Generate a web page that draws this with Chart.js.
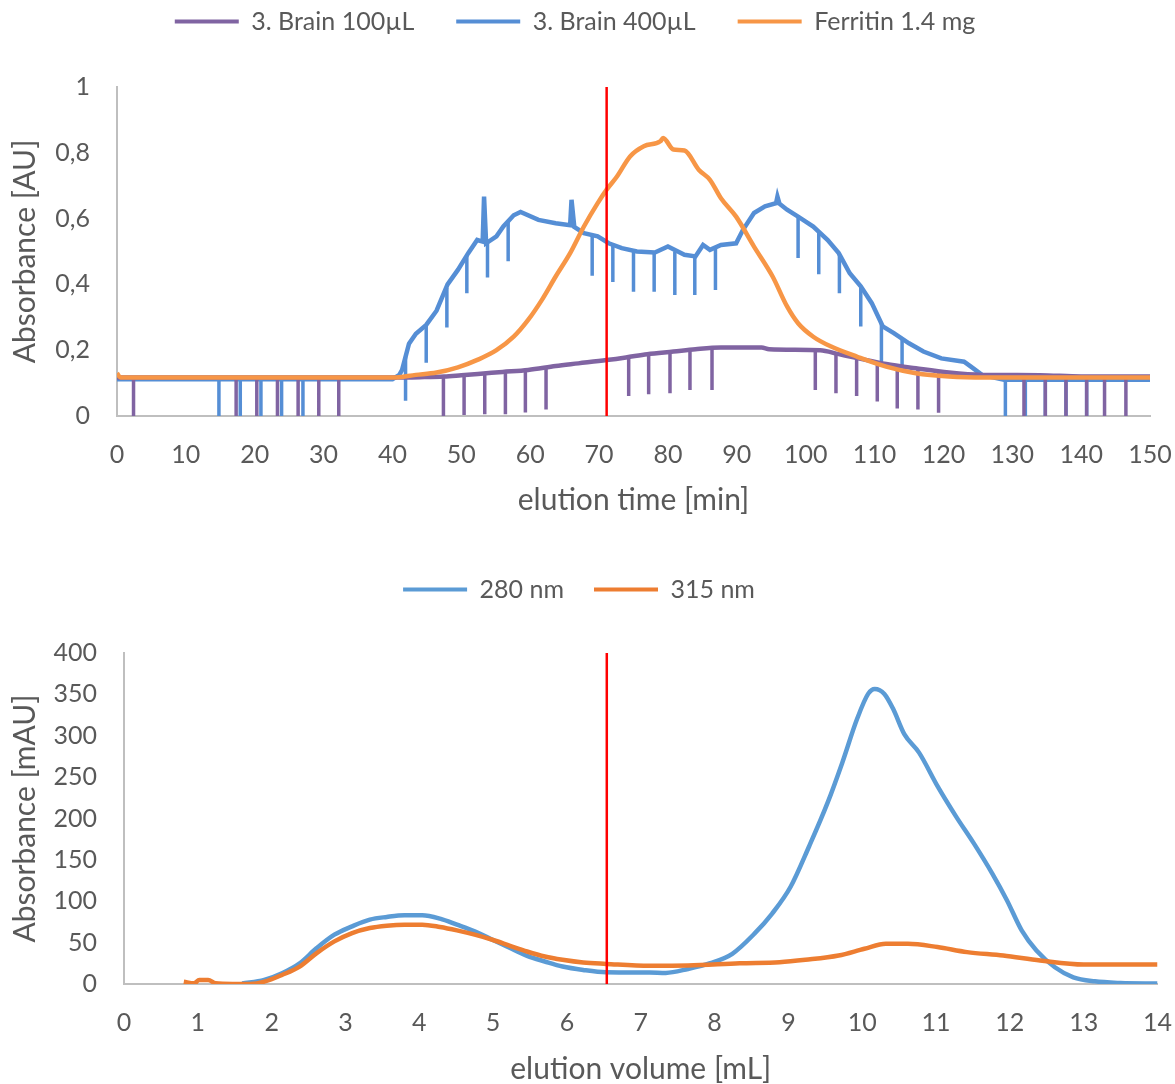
<!DOCTYPE html>
<html>
<head>
<meta charset="utf-8">
<script src="https://cdn.jsdelivr.net/npm/chart.js@4.4.1/dist/chart.umd.min.js"></script>
<style>
  html, body { margin: 0; padding: 0; background: #fff; }
  #top { position: absolute; left: 0; top: 0; width: 1175px; height: 540px; }
  #bottom { position: absolute; left: 0; top: 555px; width: 1175px; height: 529px; }
</style>
</head>
<body>
<div id="top"><canvas id="c1"></canvas></div>
<div id="bottom"><canvas id="c2"></canvas></div>
<script>
// top chart: elution time [min] vs absorbance [AU]
const brain100Time = [0, 10, 20, 30, 40, 44, 47.5, 50, 53.6, 56, 59.7, 63.7, 67, 71.1, 73.9, 77, 80.8, 84, 87.7, 93.6, 94.7, 102.1, 104.8, 107.5, 111.7, 116, 120.8, 125.6, 134, 140, 150]
const brain100Abs = [0.117, 0.117, 0.117, 0.117, 0.117, 0.118, 0.12, 0.124, 0.13, 0.134, 0.14, 0.152, 0.16, 0.17, 0.178, 0.188, 0.196, 0.203, 0.208, 0.208, 0.203, 0.2, 0.188, 0.176, 0.158, 0.145, 0.132, 0.125, 0.124, 0.12, 0.12]
const brain100SpikeTime = [2.4, 17.3, 20.3, 23.3, 26.3, 29.3, 32.2, 47.4, 50.4, 53.4, 56.4, 59.3, 62.3, 74.3, 77.2, 80.3, 83.2, 86.4, 101.4, 104.4, 107.4, 110.4, 113.3, 116.3, 119.3, 131.7, 134.8, 137.8, 140.8, 143.4, 146.5]
const brain100SpikeTop = [0.117, 0.117, 0.117, 0.117, 0.117, 0.117, 0.117, 0.12, 0.124, 0.13, 0.134, 0.14, 0.148, 0.18, 0.188, 0.195, 0.2, 0.206, 0.2, 0.19, 0.176, 0.162, 0.152, 0.145, 0.135, 0.122, 0.122, 0.122, 0.122, 0.122, 0.122]
const brain100SpikeLow = [0, 0, 0, 0, 0, 0, 0, 0, 0.003, 0.005, 0.005, 0.011, 0.02, 0.061, 0.066, 0.069, 0.079, 0.079, 0.079, 0.069, 0.061, 0.044, 0.023, 0.02, 0.01, 0, 0, 0, 0, 0, 0]

const brain400Time = [0, 40, 41, 41.4, 42.4, 43.4, 44.9, 46.4, 48, 49.5, 51, 52.3, 53.1, 53.3, 53.6, 55.1, 56.1, 57.6, 58.6, 61.2, 63.7, 65.8, 66, 66.4, 67.8, 69.8, 71.4, 73.3, 75.5, 78.1, 80, 82.4, 84, 85.1, 86.1, 87.7, 89.9, 90.9, 92.5, 94.1, 95.7, 95.9, 96.2, 97.3, 98.9, 101.1, 103.2, 104.8, 106.4, 108, 109.6, 111.2, 112.8, 115, 117.1, 119.7, 123, 124, 125.6, 128.8, 150]
const brain400Abs = [0.112, 0.112, 0.125, 0.14, 0.22, 0.25, 0.277, 0.32, 0.4, 0.444, 0.495, 0.535, 0.53, 0.667, 0.525, 0.546, 0.576, 0.61, 0.62, 0.596, 0.586, 0.58, 0.657, 0.575, 0.556, 0.546, 0.525, 0.51, 0.5, 0.497, 0.515, 0.49, 0.485, 0.52, 0.505, 0.52, 0.525, 0.566, 0.617, 0.637, 0.647, 0.667, 0.645, 0.627, 0.606, 0.576, 0.535, 0.495, 0.434, 0.394, 0.343, 0.272, 0.252, 0.221, 0.196, 0.175, 0.165, 0.15, 0.125, 0.11, 0.11]
const brain400SpikeTime = [14.8, 17.9, 20.9, 23.9, 27.0, 41.9, 44.9, 47.9, 50.8, 53.8, 56.8, 69, 72, 75, 78, 81, 83.9, 86.9, 98.9, 101.9, 104.9, 108, 111, 114, 129, 131.9, 134.8, 137.8, 140.8]
const brain400SpikeTop = [0.112, 0.112, 0.112, 0.112, 0.112, 0.18, 0.277, 0.39, 0.49, 0.53, 0.59, 0.55, 0.52, 0.5, 0.497, 0.5, 0.485, 0.51, 0.606, 0.56, 0.49, 0.394, 0.28, 0.235, 0.11, 0.11, 0.11, 0.11, 0.11]
const brain400SpikeLow = [0, 0, 0, 0, 0, 0.046, 0.162, 0.269, 0.373, 0.421, 0.47, 0.426, 0.407, 0.378, 0.378, 0.368, 0.368, 0.383, 0.48, 0.431, 0.373, 0.272, 0.15, 0.15, 0, 0, 0, 0, 0]

const ferritinTime = [0, 0.5, 10, 20, 30, 40, 43.4, 46.4, 49.5, 52.5, 55.1, 57.6, 59.7, 61.7, 63.7, 65.8, 67.8, 69.8, 71.1, 72.6, 74.5, 76.5, 78.9, 79.3, 80.8, 82.4, 84.5, 86.1, 87.7, 89.9, 92.5, 95.2, 97.3, 98.9, 101.1, 103.7, 107.5, 111.7, 116, 120.8, 126.1, 150]
const ferritinAbs = [0.13, 0.117, 0.117, 0.117, 0.117, 0.117, 0.125, 0.132, 0.148, 0.172, 0.2, 0.241, 0.292, 0.353, 0.424, 0.495, 0.576, 0.647, 0.688, 0.728, 0.789, 0.82, 0.835, 0.845, 0.81, 0.807, 0.748, 0.718, 0.662, 0.606, 0.515, 0.424, 0.333, 0.282, 0.241, 0.211, 0.18, 0.15, 0.13, 0.12, 0.117, 0.117]

const markerTime = 71.1

// bottom chart: elution volume [mL] vs absorbance [mAU]
const vol280 = [1.6, 1.9, 2.14, 2.38, 2.61, 2.85, 3.09, 3.33, 3.56, 3.8, 4.04, 4.28, 4.51, 4.75, 4.99, 5.23, 5.46, 5.7, 5.94, 6.22, 6.53, 7.12, 7.34, 7.64, 7.94, 8.24, 8.54, 8.78, 9.03, 9.28, 9.53, 9.73, 9.93, 10.08, 10.17, 10.3, 10.42, 10.57, 10.77, 11.02, 11.27, 11.51, 11.76, 11.96, 12.16, 12.36, 12.61, 12.86, 13.15, 13.5, 14]
const abs280 = [0.5, 4.9, 13, 25, 43.4, 59.6, 69.7, 77.8, 81, 83, 83, 79, 71.7, 63.6, 53.5, 43.4, 34, 27.2, 21.1, 17, 14.2, 13.8, 13.4, 18.2, 25.1, 36.5, 60.8, 85.1, 117.5, 166.2, 218.8, 267.5, 320.2, 350.6, 356.6, 350.6, 332.3, 302, 279.6, 239.1, 202.6, 170.2, 133.7, 101.3, 64.8, 40.5, 20.3, 8.1, 3.2, 1.2, 0.5]
const vol315 = [0.81, 0.95, 1.02, 1.14, 1.24, 1.47, 1.71, 1.9, 2.14, 2.38, 2.61, 2.85, 3.09, 3.33, 3.56, 3.8, 4.04, 4.28, 4.51, 4.75, 4.99, 5.23, 5.46, 5.7, 5.94, 6.22, 6.53, 7.12, 7.64, 8.34, 8.88, 9.23, 9.68, 10.03, 10.32, 10.62, 11.02, 11.42, 11.91, 12.41, 13.0, 14]
const abs315 = [2.8, 0.8, 4.9, 4.9, 0.8, 0, 0, 2.8, 10.9, 21, 37.3, 51.5, 61.6, 67.7, 70.5, 71.7, 71.7, 68.9, 64.8, 59.6, 53.5, 46.2, 39.3, 33.2, 29.2, 25.9, 24.3, 22, 22.3, 25.1, 26.3, 29.2, 34.4, 42.6, 48.6, 48.6, 44.6, 38.5, 34.4, 28.4, 23.5, 23.5]

const markerVolume = 6.54

const fam = "'Liberation Sans Narrow', 'Arial Narrow', Lato, sans-serif"
Chart.defaults.font.family = fam
Chart.defaults.color = '#595959'

function pairs(xs, ys) {
  return xs.map((x, i) => ({ x: x, y: ys[i] }))
}

// each spike is a short vertical segment, separated by a gap
function spikes(xs, tops, lows) {
  const pts = []
  xs.forEach((x, i) => {
    pts.push({ x: x, y: tops[i] }, { x: x, y: lows[i] }, { x: x, y: null })
  })
  return pts
}

function legendBox(h) {
  return {
    id: 'legendBox',
    beforeInit(chart) {
      const fit = chart.legend.fit
      chart.legend.fit = function () {
        fit.call(this)
        this.height = h
      }
    },
  }
}

function legendOpts(pad) {
  return {
    position: 'top',
    labels: {
      boxWidth: 64,
      boxHeight: 4,
      padding: pad,
      font: { size: 25 },
      color: '#595959',
      generateLabels(chart) {
        return Chart.defaults.plugins.legend.labels.generateLabels(chart)
          .filter(l => l.text !== '')
          .sort((a, b) => a.datasetIndex - b.datasetIndex)
          .map(l => Object.assign(l, { lineWidth: 0 }))
      },
    },
  }
}

// tick marks are hidden but keep their length, so labels sit lower without
// widening the side padding of the axis
function axisX(min, max, step, title, height, titlePad) {
  return {
    type: 'linear',
    min: min,
    max: max,
    ticks: { stepSize: step, padding: 3, font: { size: 25 }, color: '#595959' },
    grid: { display: false, drawTicks: true, tickLength: 21 },
    border: { display: true, color: '#bfbfbf', width: 2 },
    title: { display: true, text: title, font: { size: 30 }, color: '#595959', padding: { top: titlePad, bottom: titlePad } },
    afterFit(s) { s.height = height },
  }
}

function axisY(min, max, step, title, width, fmt) {
  return {
    min: min,
    max: max,
    ticks: { stepSize: step, padding: 27, font: { size: 25 }, color: '#595959', callback: fmt },
    grid: { display: false, drawTicks: false },
    border: { display: true, color: '#bfbfbf', width: 2 },
    title: { display: true, text: title, font: { size: 30 }, color: '#595959', padding: { top: 7, bottom: 7 } },
    afterFit(s) { s.width = width },
  }
}

const purple = '#8064a2'
const blueTop = '#558ed5'
const orangeTop = '#f79646'
const blue = '#5b9bd5'
const orange = '#ed7d31'
const red = '#ff0000'

function line(label, data, color, order, width, smooth) {
  return {
    label: label,
    data: data,
    borderColor: color,
    backgroundColor: color,
    borderWidth: width,
    pointRadius: 0,
    fill: false,
    spanGaps: false,
    order: order,
    tension: smooth ? 0.3 : 0,
    cubicInterpolationMode: smooth ? 'monotone' : 'default',
    borderCapStyle: 'butt',
  }
}

new Chart(document.getElementById('c1'), {
  type: 'line',
  data: {
    datasets: [
      line('3. Brain 100µL', pairs(brain100Time, brain100Abs), purple, 2, 4.5, true),
      line('3. Brain 400µL', pairs(brain400Time, brain400Abs), blueTop, 3, 4.5, false),
      line('Ferritin 1.4 mg', pairs(ferritinTime, ferritinAbs), orangeTop, 1, 4.5, true),
      line('', spikes(brain100SpikeTime, brain100SpikeTop, brain100SpikeLow), purple, 2, 3.5, false),
      line('', spikes(brain400SpikeTime, brain400SpikeTop, brain400SpikeLow), blueTop, 3, 3.5, false),
      line('', [{ x: markerTime, y: 0 }, { x: markerTime, y: 1 }], red, 0, 2.5, false),
    ],
  },
  options: {
    responsive: true,
    maintainAspectRatio: false,
    animation: false,
    layout: { padding: { top: -33, left: 0, right: 25, bottom: 0 } },
    plugins: { legend: legendOpts(42), tooltip: { enabled: false } },
    scales: {
      x: axisX(0, 150, 10, 'elution time [min]', 124, 22),
      y: axisY(0, 1, 0.2, 'Absorbance [AU]', 117, v => (v === 0 || v === 1) ? String(v) : v.toFixed(1).replace('.', ',')),
    },
  },
  plugins: [legendBox(120)],
})

new Chart(document.getElementById('c2'), {
  type: 'line',
  data: {
    datasets: [
      line('280 nm', pairs(vol280, abs280), blue, 2, 4.5, true),
      line('315 nm', pairs(vol315, abs315), orange, 1, 4.5, true),
      line('', [{ x: markerVolume, y: 0 }, { x: markerVolume, y: 400 }], red, 0, 2.5, false),
    ],
  },
  options: {
    responsive: true,
    maintainAspectRatio: false,
    animation: false,
    layout: { padding: { top: -8, left: 0, right: 17, bottom: 0 } },
    plugins: { legend: legendOpts(30), tooltip: { enabled: false } },
    scales: {
      x: axisX(0, 14, 1, 'elution volume [mL]', 100, -3),
      y: axisY(0, 400, 50, 'Absorbance [mAU]', 124, v => String(v)),
    },
  },
  plugins: [legendBox(106)],
})
</script>
</body>
</html>
